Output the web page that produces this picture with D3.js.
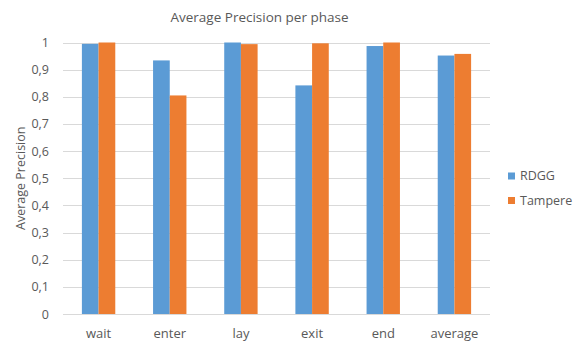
<!DOCTYPE html>
<html><head><meta charset="utf-8">
<script src="https://cdn.jsdelivr.net/npm/d3@7"></script>
<style>body{margin:0;background:#fff}svg{display:block}text{font-family:"Open Sans",sans-serif;fill:#595959}</style>
</head><body><svg id="c" width="585" height="341"></svg>
<script>
const categories = ["wait","enter","lay","exit","end","average"];
const seriesNames = ["RDGG","Tampere"];
const rdgg = [0.995,0.934,1.0,0.842,0.987,0.952];
const tampere = [1.0,0.805,0.994,0.997,1.0,0.958];
const yTicks = [0,0.1,0.2,0.3,0.4,0.5,0.6,0.7,0.8,0.9,1];
const colors = ["#5B9BD5","#ED7D31"];

const svg = d3.select("#c");
const m = {left:63, right:95, top:42.5, bottom:27};
const W = 585, H = 341;
const x = d3.scaleBand().domain(categories).range([m.left, W-m.right]).paddingInner(0.531).paddingOuter(0.2655);
const x1 = d3.scaleBand().domain(seriesNames).range([0, x.bandwidth()]);
const y = d3.scaleLinear().domain([0,1]).range([H-m.bottom, m.top]);
const fmt = v => String(v).replace(".", ",");

// gridlines
svg.append("g").selectAll("line").data(yTicks).join("line")
  .attr("x1", m.left).attr("x2", W-m.right)
  .attr("y1", d=>Math.round(y(d))+0.5).attr("y2", d=>Math.round(y(d))+0.5)
  .attr("stroke","#D9D9D9").attr("stroke-width",1);

// y axis labels
const ya = svg.append("g").attr("transform",`translate(${m.left-14},0)`)
  .call(d3.axisLeft(y).tickValues(yTicks).tickFormat(fmt).tickSize(0).tickPadding(0));
ya.select(".domain").remove();
ya.selectAll("text").style("font-size","12.5px").attr("fill","#595959").style("font-family","'Open Sans',sans-serif");

// bars
const data = categories.map((c,i)=>({c, vals:[rdgg[i], tampere[i]]}));
const groups = svg.append("g").selectAll("g").data(data).join("g")
  .attr("transform", d=>`translate(${x(d.c)},0)`);
groups.selectAll("rect").data(d=>d.vals.map((v,j)=>({v, s:seriesNames[j], j}))).join("rect")
  .attr("x", d=>x1(d.s)).attr("width", x1.bandwidth())
  .attr("y", d=>y(d.v)).attr("height", d=>y(0)-y(d.v))
  .attr("fill", d=>colors[d.j]);

// x axis labels
const xa = svg.append("g").attr("transform",`translate(0,${H-m.bottom+13})`)
  .call(d3.axisBottom(x).tickSize(0).tickPadding(0));
xa.select(".domain").remove();
xa.selectAll("text").style("font-size","13px").attr("fill","#595959").style("font-family","'Open Sans',sans-serif").attr("dy","0.85em");

// title
svg.append("text").attr("x",259.5).attr("y",22).attr("text-anchor","middle")
  .style("font-size","13.5px").text("Average Precision per phase");

// y axis title
svg.append("text").attr("transform",`translate(25,${(y(0)+y(1))/2}) rotate(-90)`)
  .attr("text-anchor","middle").style("font-size","12.5px").text("Average Precision");

// legend
const lg = svg.append("g").selectAll("g").data(seriesNames).join("g")
  .attr("transform",(d,i)=>`translate(508,${176+i*24.5})`);
lg.append("rect").attr("x",0).attr("y",-3.5).attr("width",7).attr("height",7).attr("fill",(d,i)=>colors[i]);
lg.append("text").attr("x",12).attr("y",0).attr("dy","0.35em").style("font-size","12.5px").text(d=>d);
</script></body></html>
